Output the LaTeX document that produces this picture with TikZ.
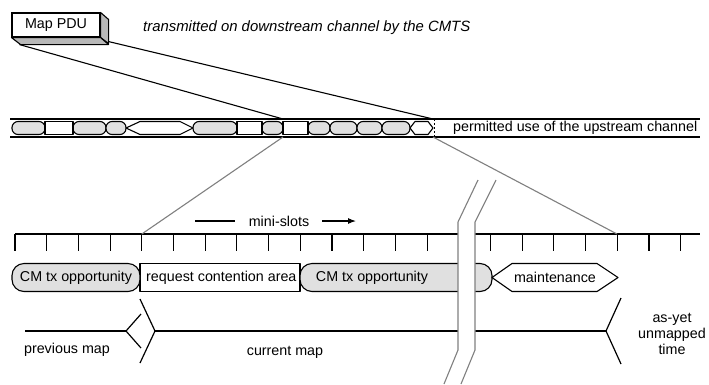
\documentclass[tikz,border=0pt]{standalone}
\usepackage{fontspec}
\setmainfont{Liberation Sans}
\usetikzlibrary{arrows.meta}
\definecolor{lightfill}{gray}{0.88}
\definecolor{sidefill}{gray}{0.72}
\definecolor{zoomgrey}{gray}{0.5}
\begin{document}
\begin{tikzpicture}[x=1pt,y=-1pt,
  ln/.style={line width=1.1pt, line join=round},
  gline/.style={draw=zoomgrey, line width=1.1pt},
  txt/.style={font=\fontsize{14.3}{15}\selectfont, inner sep=0pt},
  stad/.style={ln, fill=lightfill, rounded corners=6pt},
  bigstad/.style={ln, fill=lightfill, rounded corners=12pt},
  wbox/.style={ln, fill=white},
  chev/.style={line width=1.2pt, line join=miter},
]
\useasboundingbox[fill=white] (0,0) rectangle (709,384);

% ---------- Map PDU box (3D) ----------
\node[draw, line width=1.1pt, fill=white, minimum width=88pt, minimum height=24pt,
      inner sep=0pt, font=\fontsize{14.3}{15}\selectfont] (pdu) at (56,25) {Map PDU};
\draw[ln, fill=sidefill] (pdu.north east) -- ++(8,7) -- ++(0,24) -- (pdu.south east) -- cycle;
\draw[ln, fill=sidefill] (pdu.south west) -- (pdu.south east) -- ++(8,7) -- ++(-88,0) -- cycle;
\coordinate (pduL) at ([shift={(8,7)}]pdu.south west);
\coordinate (pduR) at ([shift={(8,4)}]pdu.south east);
\node[txt, anchor=west, font=\fontsize{14.9}{16}\selectfont\itshape] (down) at (143,28)
  {transmitted on downstream channel by the CMTS};

% ---------- upstream band ----------
\draw[ln] (10,119) -- (700,119);
\draw[ln] (10,137) -- (700,137);
\foreach \a/\b in {12/45,73/106,106/126,193/237,262/283,308/330,330/357,357/382,382/410}
  \draw[stad] (\a,121.5) rectangle (\b,134.5);
\foreach \a/\b in {45/73,237/262,283/308}
  \draw[wbox] (\a,121.5) rectangle (\b,134.5);
\draw[wbox] (126,128) -- (140,121.5) -- (180,121.5) -- (193,128) -- (180,134.5) -- (140,134.5) -- cycle;
\draw[wbox] (410,128) -- (415,121.5) -- (428,121.5) -- (433,128) -- (428,134.5) -- (415,134.5) -- cycle;
\draw[line width=1pt, dash pattern=on 2pt off 2pt] (434,119) -- (434,137);
\node[txt, anchor=west] (permit) at (453,128) {permitted use of the upstream channel};

\coordinate (slotTL) at (283,119);
\coordinate (slotTR) at (433,119);
\coordinate (slotBL) at (283,137);
\coordinate (slotBR) at (433,137);

% connectors from Map PDU
\draw[ln] (pduL) -- (slotTL);
\draw[ln] (pduR) -- (slotTR);

% ---------- mini-slot scale ----------
\draw[ln] (15,234) -- (700,234);
\foreach \k in {0,...,21}
  \draw[ln] ({15+31.7*\k},234) -- ({15+31.7*\k},251);
\coordinate (tickL) at (141.8,234);
\coordinate (tickR) at (617,234);
\draw[gline] (slotBL) -- (tickL);
\draw[gline] (slotBR) -- (tickR);

\node[txt] (mini) at (279,221) {mini-slots};
\draw[ln] (195,221) -- (235,221);
\draw[ln, -{Latex[length=8pt,width=6pt]}] (322,221) -- (356,221);

% ---------- allocation row ----------
\draw[wbox] (140,263.5) rectangle (300,291.5);
\node[txt, anchor=west] (req) at (146,277.5) {request contention area};
\draw[bigstad] (12,263.5) rectangle (140,291.5);
\node[txt] (cm1) at (76,277.5) {CM tx opportunity};
\draw[bigstad] (300,263.5) rectangle (492,291.5);
\node[txt] (cm2) at (372,277.5) {CM tx opportunity};
\draw[wbox] (492,277.5) -- (512,263.5) -- (597,263.5) -- (618,277.5) -- (597,291.5) -- (512,291.5) -- cycle;
\node[txt] (maint) at (555,277.5) {maintenance};

% ---------- map extents ----------
\coordinate (pm) at (126,331);
\coordinate (cmS) at (155,331);
\coordinate (cmE) at (606,331);
\draw[ln] (25,331) -- (pm);
\draw[chev] (141,314) -- (pm) -- (141,348);
\draw[chev] (140,299) -- (cmS) -- (140,363);
\draw[ln] (cmS) -- (cmE);
\draw[chev] (621,298) -- (cmE) -- (621,364);
\node[txt] (prev) at (67,350) {previous map};
\node[txt] (cur) at (285,352) {current map};
\node[txt, align=center, font=\fontsize{14.3}{16}\selectfont] (unm) at (672,334) {as-yet\\unmapped\\time};

% ---------- break ----------
\fill[white] (478,180) -- (458,222) -- (458,350) -- (444,384) -- (461,384) -- (475,350) -- (475,222) -- (496,180) -- cycle;
\draw[gline] (478,180) -- (458,222) -- (458,350) -- (444,384);
\draw[gline] (496,180) -- (475,222) -- (475,350) -- (461,384);
\end{tikzpicture}
\end{document}
